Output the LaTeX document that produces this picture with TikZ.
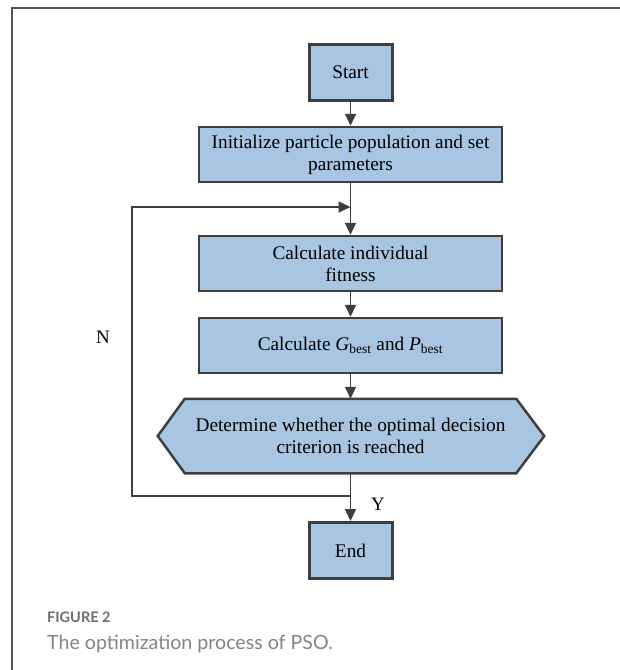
\documentclass[tikz,border=0pt]{standalone}
\usepackage{fontspec}
\setmainfont{Liberation Serif}
\newfontfamily\capfont{Lato}
\usetikzlibrary{arrows.meta}
\definecolor{boxfill}{HTML}{A8C5E1}
\definecolor{boxline}{HTML}{3E3E3E}
\definecolor{framegray}{HTML}{555555}
\definecolor{capgray}{HTML}{6E6E6E}
\begin{document}
\begin{tikzpicture}[x=1pt,y=-1pt,
  stepbox/.style={draw=boxline, fill=boxfill, line width=2.5pt, inner sep=0pt,
    align=center, font=\fontsize{19.3}{22}\selectfont},
  termbox/.style={stepbox, line width=3pt, minimum width=83pt, minimum height=56pt},
  widebox/.style={stepbox, minimum width=303pt, minimum height=55pt},
  flow/.style={draw=boxline, line width=1.8pt, -{Triangle[length=12pt,width=11pt]}},
  plain/.style={draw=boxline, line width=1.8pt},
  lbl/.style={font=\fontsize{19}{22}\selectfont, inner sep=0pt}
]
\useasboundingbox (0,0) rectangle (620,670);
% outer frame (open to the right and bottom)
\draw[framegray, line width=2pt] (12,670) -- (12,8) -- (620,8);

% process nodes
\node[termbox] (start) at (350.5,72) {Start};
\node[widebox] (init) at (350.5,154.5) {Initialize particle population and set\\parameters};
\node[widebox] (fit) at (350.5,263.5) {Calculate individual\\fitness};
\node[widebox] (best) at (350.5,345.5) {Calculate \textit{G}\textsubscript{best} and \textit{P}\textsubscript{best}};
% decision: hexagon drawn around a text node
\node[stepbox, draw=none, fill=none, minimum width=329pt, minimum height=72pt] (dec) at (350.5,436) {};
\draw[draw=boxline, fill=boxfill, line width=2.5pt, line join=miter]
  (dec.north west) -- (dec.north east) -- ([xshift=28pt]dec.east) -- (dec.south east)
  -- (dec.south west) -- ([xshift=-27pt]dec.west) -- cycle;
\node[stepbox, draw=none, fill=none] (dectext) at (dec.center)
  {Determine whether the optimal decision\\criterion is reached};
\node[termbox] (end) at (350.5,550.5) {End};

% loop corners
\coordinate (join) at (350.5,207);
\coordinate (split) at (350.5,496);
\coordinate (lb) at (132,496);
\coordinate (lt) at (132,207);

% connectors
\draw[flow] (start) -- (init);
\draw[plain] (init) -- (join);
\draw[flow] (join) -- (fit);
\draw[flow] (fit) -- (best);
\draw[flow] (best) -- (dec);
\draw[flow] (dec) -- (end);
\draw[flow] (split) -- (lb) -- (lt) -- (join);

\node[lbl] (ylab) at (378,504) {Y};
\node[lbl] (nlab) at (103,337) {N};

% caption
\node[anchor=base west, inner sep=0pt, text=capgray, font=\capfont\bfseries\fontsize{14.5}{16}\selectfont] (fig) at (47,622) {FIGURE 2};
\node[anchor=base west, inner sep=0pt, text=capgray!85, font=\capfont\fontsize{19.6}{22}\selectfont] (cap) at (47,649) {The optimization process of PSO.};
\end{tikzpicture}
\end{document}
